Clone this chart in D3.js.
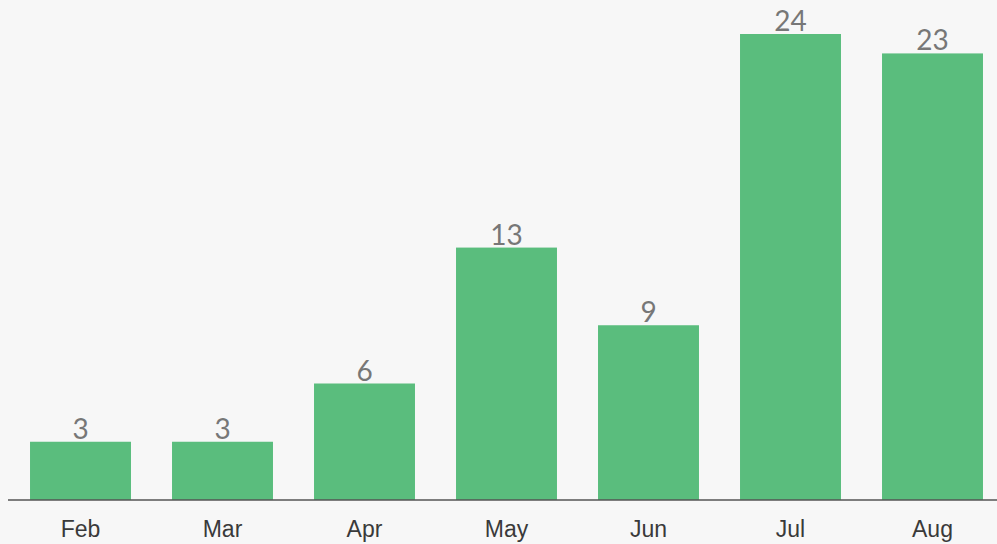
<!DOCTYPE html>
<html>
<head>
<meta charset="utf-8">
<script src="https://cdn.jsdelivr.net/npm/d3@7"></script>
<style>
  html, body { margin: 0; padding: 0; background: #f7f7f7; }
  svg { display: block; }
</style>
</head>
<body>
<svg id="chart"></svg>
<script>
const months = ['Feb', 'Mar', 'Apr', 'May', 'Jun', 'Jul', 'Aug'];
const counts = [3, 3, 6, 13, 9, 24, 23];

const width = 997, height = 544;
const baseline = 500;

const svg = d3.select('#chart')
  .attr('width', width)
  .attr('height', height);

svg.append('rect')
  .attr('width', width).attr('height', height)
  .attr('fill', '#f7f7f7');

const x = d3.scaleBand()
  .domain(months)
  .range([9.5, 1003.5])
  .paddingInner(0.289)
  .paddingOuter(0.1445);

const y = d3.scaleLinear()
  .domain([0, 24])
  .range([baseline, 34]);

// bars
svg.selectAll('rect.bar')
  .data(counts)
  .join('rect')
  .attr('class', 'bar')
  .attr('x', (d, i) => x(months[i]))
  .attr('y', d => y(d))
  .attr('width', x.bandwidth())
  .attr('height', d => baseline - y(d))
  .attr('fill', '#5abd7d');

// value labels above bars
svg.selectAll('text.val')
  .data(counts)
  .join('text')
  .attr('class', 'val')
  .attr('x', (d, i) => x(months[i]) + x.bandwidth() / 2)
  .attr('y', d => y(d) - 3)
  .attr('text-anchor', 'middle')
  .attr('font-family', 'Lato, "Open Sans", sans-serif')
  .attr('font-size', 28)
  .attr('fill', '#777')
  .text(d => d);

// baseline axis
svg.append('line')
  .attr('x1', 8).attr('x2', width)
  .attr('y1', baseline).attr('y2', baseline)
  .attr('stroke', '#555')
  .attr('stroke-width', 1.5);

// month labels
svg.selectAll('text.month')
  .data(months)
  .join('text')
  .attr('class', 'month')
  .attr('x', d => x(d) + x.bandwidth() / 2)
  .attr('y', 537)
  .attr('text-anchor', 'middle')
  .attr('font-family', '"Liberation Sans", Arial, sans-serif')
  .attr('font-size', 23)
  .attr('fill', '#3a3a3a')
  .text(d => d);
</script>
</body>
</html>
